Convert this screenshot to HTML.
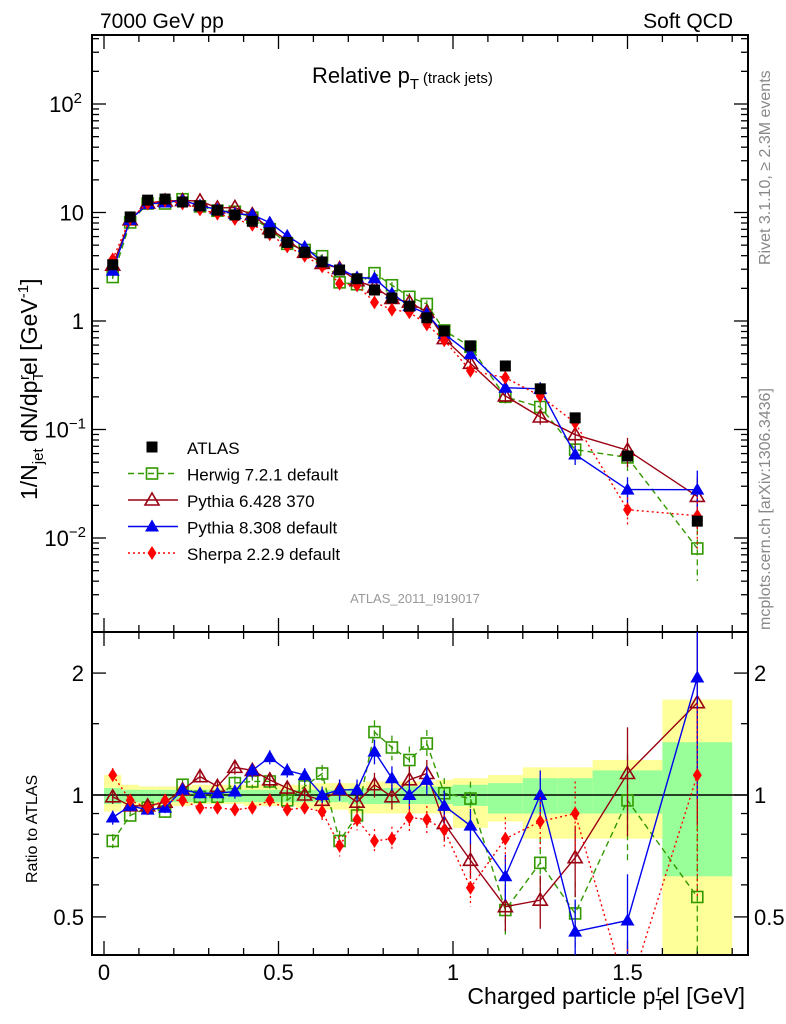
<!DOCTYPE html>
<html><head><meta charset="utf-8"><style>
body{margin:0;background:#fff}
svg{display:block;font-family:"Liberation Sans",sans-serif}
</style></head><body>
<svg id="c" width="786" height="1024" viewBox="0 0 786 1024"></svg>
<script>
const xs=[0.025,0.075,0.125,0.175,0.225,0.275,0.325,0.375,0.425,0.475,0.525,0.575,0.625,0.675,0.725,0.775,0.825,0.875,0.925,0.975,1.05,1.15,1.25,1.35,1.5,1.7];
const edges=[0,0.05,0.1,0.15,0.2,0.25,0.3,0.35,0.4,0.45,0.5,0.55,0.6,0.65,0.7,0.75,0.8,0.85,0.9,0.95,1.0,1.1,1.2,1.3,1.4,1.6,1.8];
const atlas=[3.3,9.1,13,13.3,12.5,11.5,10.5,9.5,8.3,6.5,5.3,4.3,3.5,2.95,2.45,1.93,1.63,1.37,1.07,0.81,0.59,0.385,0.237,0.128,0.057,0.0143];
const rHerwig=[0.77,0.89,0.93,0.91,1.06,0.99,0.99,1.07,1.08,1.08,0.97,1.05,1.13,0.77,0.89,1.43,1.31,1.22,1.34,1.01,0.98,0.52,0.68,0.51,0.97,0.56];
const rPy6=[0.99,0.94,0.94,0.96,1.03,1.11,1.05,1.17,1.15,1.09,1.04,1.0,0.97,1.03,0.96,1.06,0.99,1.09,1.13,0.85,0.69,0.53,0.55,0.70,1.13,1.69];
const rPy8=[0.88,0.94,0.92,0.93,1.03,1.01,1.01,1.02,1.15,1.24,1.15,1.12,1.0,1.03,1.03,1.28,1.10,1.0,1.09,0.94,0.84,0.63,1.0,0.46,0.49,1.95];
const rSherpa=[1.12,0.97,0.93,0.97,0.97,0.93,0.93,0.92,0.93,0.97,0.92,0.93,0.91,0.75,0.87,0.77,0.78,0.88,0.87,0.82,0.59,0.78,0.86,0.90,0.32,1.12];
const errRel=[0.04,0.03,0.03,0.03,0.03,0.03,0.03,0.04,0.04,0.04,0.04,0.04,0.05,0.06,0.06,0.07,0.07,0.08,0.08,0.09,0.1,0.13,0.15,0.2,0.3,0.5];
const greenUp=[0.04,0.03,0.03,0.03,0.03,0.03,0.03,0.03,0.03,0.03,0.03,0.03,0.03,0.03,0.04,0.04,0.04,0.05,0.05,0.05,0.06,0.07,0.1,0.1,0.15,0.35];
const yellowUp=[0.12,0.06,0.05,0.05,0.05,0.06,0.06,0.06,0.06,0.06,0.06,0.06,0.07,0.07,0.07,0.08,0.08,0.08,0.08,0.09,0.1,0.12,0.17,0.17,0.22,0.72];
const greenDn=[0.05,0.04,0.04,0.04,0.04,0.04,0.04,0.04,0.04,0.04,0.04,0.04,0.04,0.04,0.05,0.05,0.05,0.05,0.05,0.05,0.06,0.1,0.1,0.1,0.1,0.37];
const yellowDn=[0.09,0.06,0.06,0.06,0.06,0.05,0.05,0.05,0.06,0.06,0.06,0.07,0.08,0.08,0.1,0.1,0.1,0.1,0.1,0.1,0.17,0.14,0.22,0.22,0.22,0.7];
const xTicks=[0,0.5,1,1.5], xTickLabels=['0','0.5','1','1.5'];

const NS='http://www.w3.org/2000/svg', svg=document.getElementById('c');
function el(t,a,p){const e=document.createElementNS(NS,t);for(const k in a)e.setAttribute(k,a[k]);(p||svg).appendChild(e);return e;}
const L=92,R=748,T=35,M=632,B=955;
const X=v=>104+v*349;
const Y=v=>321-Math.log10(v)*108.5;
const YR=v=>795-Math.log10(v)*405;
const defs=el('defs',{});
const c1=el('clipPath',{id:'cm'},defs);el('rect',{x:L,y:T,width:R-L,height:M-T},c1);
const c2=el('clipPath',{id:'cr'},defs);el('rect',{x:L,y:M,width:R-L,height:B-M},c2);
const gb=el('g',{'clip-path':'url(#cr)'});

for(let i=0;i<xs.length;i++){
 const x0=X(edges[i]),x1=X(edges[i+1]);
 const yb=el('rect',{x:x0,y:YR(1+yellowUp[i]),width:x1-x0,height:YR(Math.max(1-yellowDn[i],0.05))-YR(1+yellowUp[i]),fill:'#ffff99'},gb);
 
 const gr=el('rect',{x:x0,y:YR(1+greenUp[i]),width:x1-x0,height:YR(1-greenDn[i])-YR(1+greenUp[i]),fill:'#99ff99'},gb);
 
}
el('line',{x1:L,x2:R,y1:YR(1),y2:YR(1),stroke:'#000','stroke-width':1.5});
el('rect',{x:L,y:T,width:R-L,height:M-T,fill:'none',stroke:'#000','stroke-width':2});
el('rect',{x:L,y:M,width:R-L,height:B-M,fill:'none',stroke:'#000','stroke-width':2});
for(let v=0;v<=1.8001;v+=0.1){
 const big=Math.abs(v*2-Math.round(v*2))<1e-6, len=big?14:7, x=X(v);
 for(const [y,d] of [[T,1],[M,-1],[M,1],[B,-1]]) el('line',{x1:x,x2:x,y1:y,y2:y+d*len,stroke:'#000','stroke-width':1.3});
}
xTicks.forEach((v,i)=>{const t=el('text',{x:X(v),y:980,'font-size':22,'text-anchor':'middle'});t.textContent=xTickLabels[i];});
for(let d=-3;d<=2;d++){for(let m=1;m<10;m++){const v=m*Math.pow(10,d);const y=Y(v);if(y<T||y>M)continue;const len=m==1?14:7;
 el('line',{x1:L,x2:L+len,y1:y,y2:y,stroke:'#000','stroke-width':1.3});el('line',{x1:R,x2:R-len,y1:y,y2:y,stroke:'#000','stroke-width':1.3});}}
const ylab=[[100,'10','2'],[10,'10',''],[1,'1',''],[0.1,'10','−1'],[0.01,'10','−2']];
ylab.forEach(([v,b,e])=>{const t=el('text',{x:e?74:84,y:Y(v)+8,'font-size':22,'text-anchor':'end'});t.textContent=b;if(e){const s=el('tspan',{dy:-9,'font-size':15},t);s.textContent=e;t.setAttribute('x',e=='2'?82:86);}
 });
[0.5,0.6,0.7,0.8,0.9,1,1.5,2].forEach(v=>{const big=(v==0.5||v==1||v==2),len=big?14:7,y=YR(v);
 el('line',{x1:L,x2:L+len,y1:y,y2:y,stroke:'#000','stroke-width':1.3});el('line',{x1:R,x2:R-len,y1:y,y2:y,stroke:'#000','stroke-width':1.3});});
[[0.5,'0.5'],[1,'1'],[2,'2']].forEach(([v,s])=>{for(const [x,a] of [[84,'end'],[754,'start']]){const t=el('text',{x:x,y:YR(v)+8,'font-size':22,'text-anchor':a});t.textContent=s;}});
const series=[
 {name:'herwig',r:rHerwig,col:'#339900',dash:'6,4',mk:'sq'},
 {name:'pythia6',r:rPy6,col:'#990011',dash:'',mk:'tri'},
 {name:'pythia8',r:rPy8,col:'#0000ee',dash:'',mk:'trif'},
 {name:'sherpa',r:rSherpa,col:'#ff0000',dash:'2,3',mk:'dia'}];
function marker(g,mk,x,y,col){
 if(mk=='sq')return el('rect',{x:x-5.5,y:y-5.5,width:11,height:11,fill:'none',stroke:col,'stroke-width':1.6},g);
 if(mk=='tri')return el('polygon',{points:`${x},${y-7} ${x-7},${y+5} ${x+7},${y+5}`,fill:'none',stroke:col,'stroke-width':1.6},g);
 if(mk=='trif')return el('polygon',{points:`${x},${y-7} ${x-7},${y+5} ${x+7},${y+5}`,fill:col},g);
 if(mk=='dia')return el('polygon',{points:`${x},${y-7} ${x-4.5},${y} ${x},${y+7} ${x+4.5},${y}`,fill:col},g);
 if(mk=='box')return el('rect',{x:x-5.5,y:y-5.5,width:11,height:11,fill:col},g);
}
series.forEach(s=>{
 for(const [clip,yf,vals] of [['cm',Y,s.r.map((r,i)=>r*atlas[i])],['cr',YR,s.r]]){
  const g=el('g',{'clip-path':`url(#${clip})`});
  
  const pts=vals.map((v,i)=>`${X(xs[i])},${yf(v)}`).join(' ');
  el('polyline',{points:pts,fill:'none',stroke:s.col,'stroke-width':1.4,'stroke-dasharray':s.dash},g);
  vals.forEach((v,i)=>{const x=X(xs[i]),e=errRel[i];
   el('line',{x1:x,x2:x,y1:yf(v*(1+e)),y2:yf(Math.max(v*(1-e),v*0.05)),stroke:s.col,'stroke-width':1.3,'stroke-dasharray':s.dash},g);
   const m=marker(g,s.mk,x,yf(v),s.col);});
 }
});
const ga=el('g',{'clip-path':'url(#cm)'});

atlas.forEach((v,i)=>{const m=marker(ga,'box',X(xs[i]),Y(v),'#000');});
const leg=[['ATLAS','#000','','box'],['Herwig 7.2.1 default','#339900','6,4','sq'],['Pythia 6.428 370','#990011','','tri'],['Pythia 8.308 default','#0000ee','','trif'],['Sherpa 2.2.9 default','#ff0000','2,3','dia']];
leg.forEach(([n,c,d,mk],i)=>{const y=447+i*26.5;const g=el('g',{});
 if(i>0)el('line',{x1:128,x2:178,y1:y,y2:y,stroke:c,'stroke-width':1.4,'stroke-dasharray':d},g);
 marker(g,mk,152,y,c);const t=el('text',{x:187,y:y+7,'font-size':17},g);t.textContent=n;});
function txt(x,y,s,size,attrs,name){const t=el('text',Object.assign({x:x,y:y,'font-size':size},attrs||{}));t.innerHTML=s;return t;}
txt(100,28,'7000 GeV pp',21,{},'energy-label');
txt(733,28,'Soft QCD',21,{'text-anchor':'end'},'category-label');
txt(312,83,'Relative p<tspan dy="6" font-size="15">T</tspan><tspan dy="-6" font-size="15"> (track jets)</tspan>',22,{},'plot-title');
txt(415,603,'ATLAS_2011_I919017',13,{'text-anchor':'middle',fill:'#999'},'analysis-id');
txt(745,1004,'Charged particle p<tspan dy="6" font-size="16">T</tspan><tspan dy="-14" font-size="16" dx="-8">r</tspan><tspan dy="8">el [GeV]</tspan>',23,{'text-anchor':'end'},'x-axis-title');
txt(0,0,'1/N<tspan dy="6" font-size="15">jet</tspan><tspan dy="-6"> dN/dp</tspan><tspan dy="6" font-size="15">T</tspan><tspan dy="-14" font-size="15" dx="-8">r</tspan><tspan dy="8">el [GeV</tspan><tspan dy="-9" font-size="15">-1</tspan><tspan dy="9">]</tspan>',23,{transform:'translate(37,500) rotate(-90)'},'y-axis-title');
txt(0,0,'Ratio to ATLAS',16,{transform:'translate(37,883) rotate(-90)'},'ratio-axis-title');
txt(0,0,'Rivet 3.1.10, ≥ 2.3M events',16,{transform:'translate(770,265) rotate(-90)',fill:'#888'},'rivet-label');
txt(0,0,'mcplots.cern.ch [arXiv:1306.3436]',16,{transform:'translate(770,630) rotate(-90)',fill:'#888'},'mcplots-label');
</script>
</body></html>
